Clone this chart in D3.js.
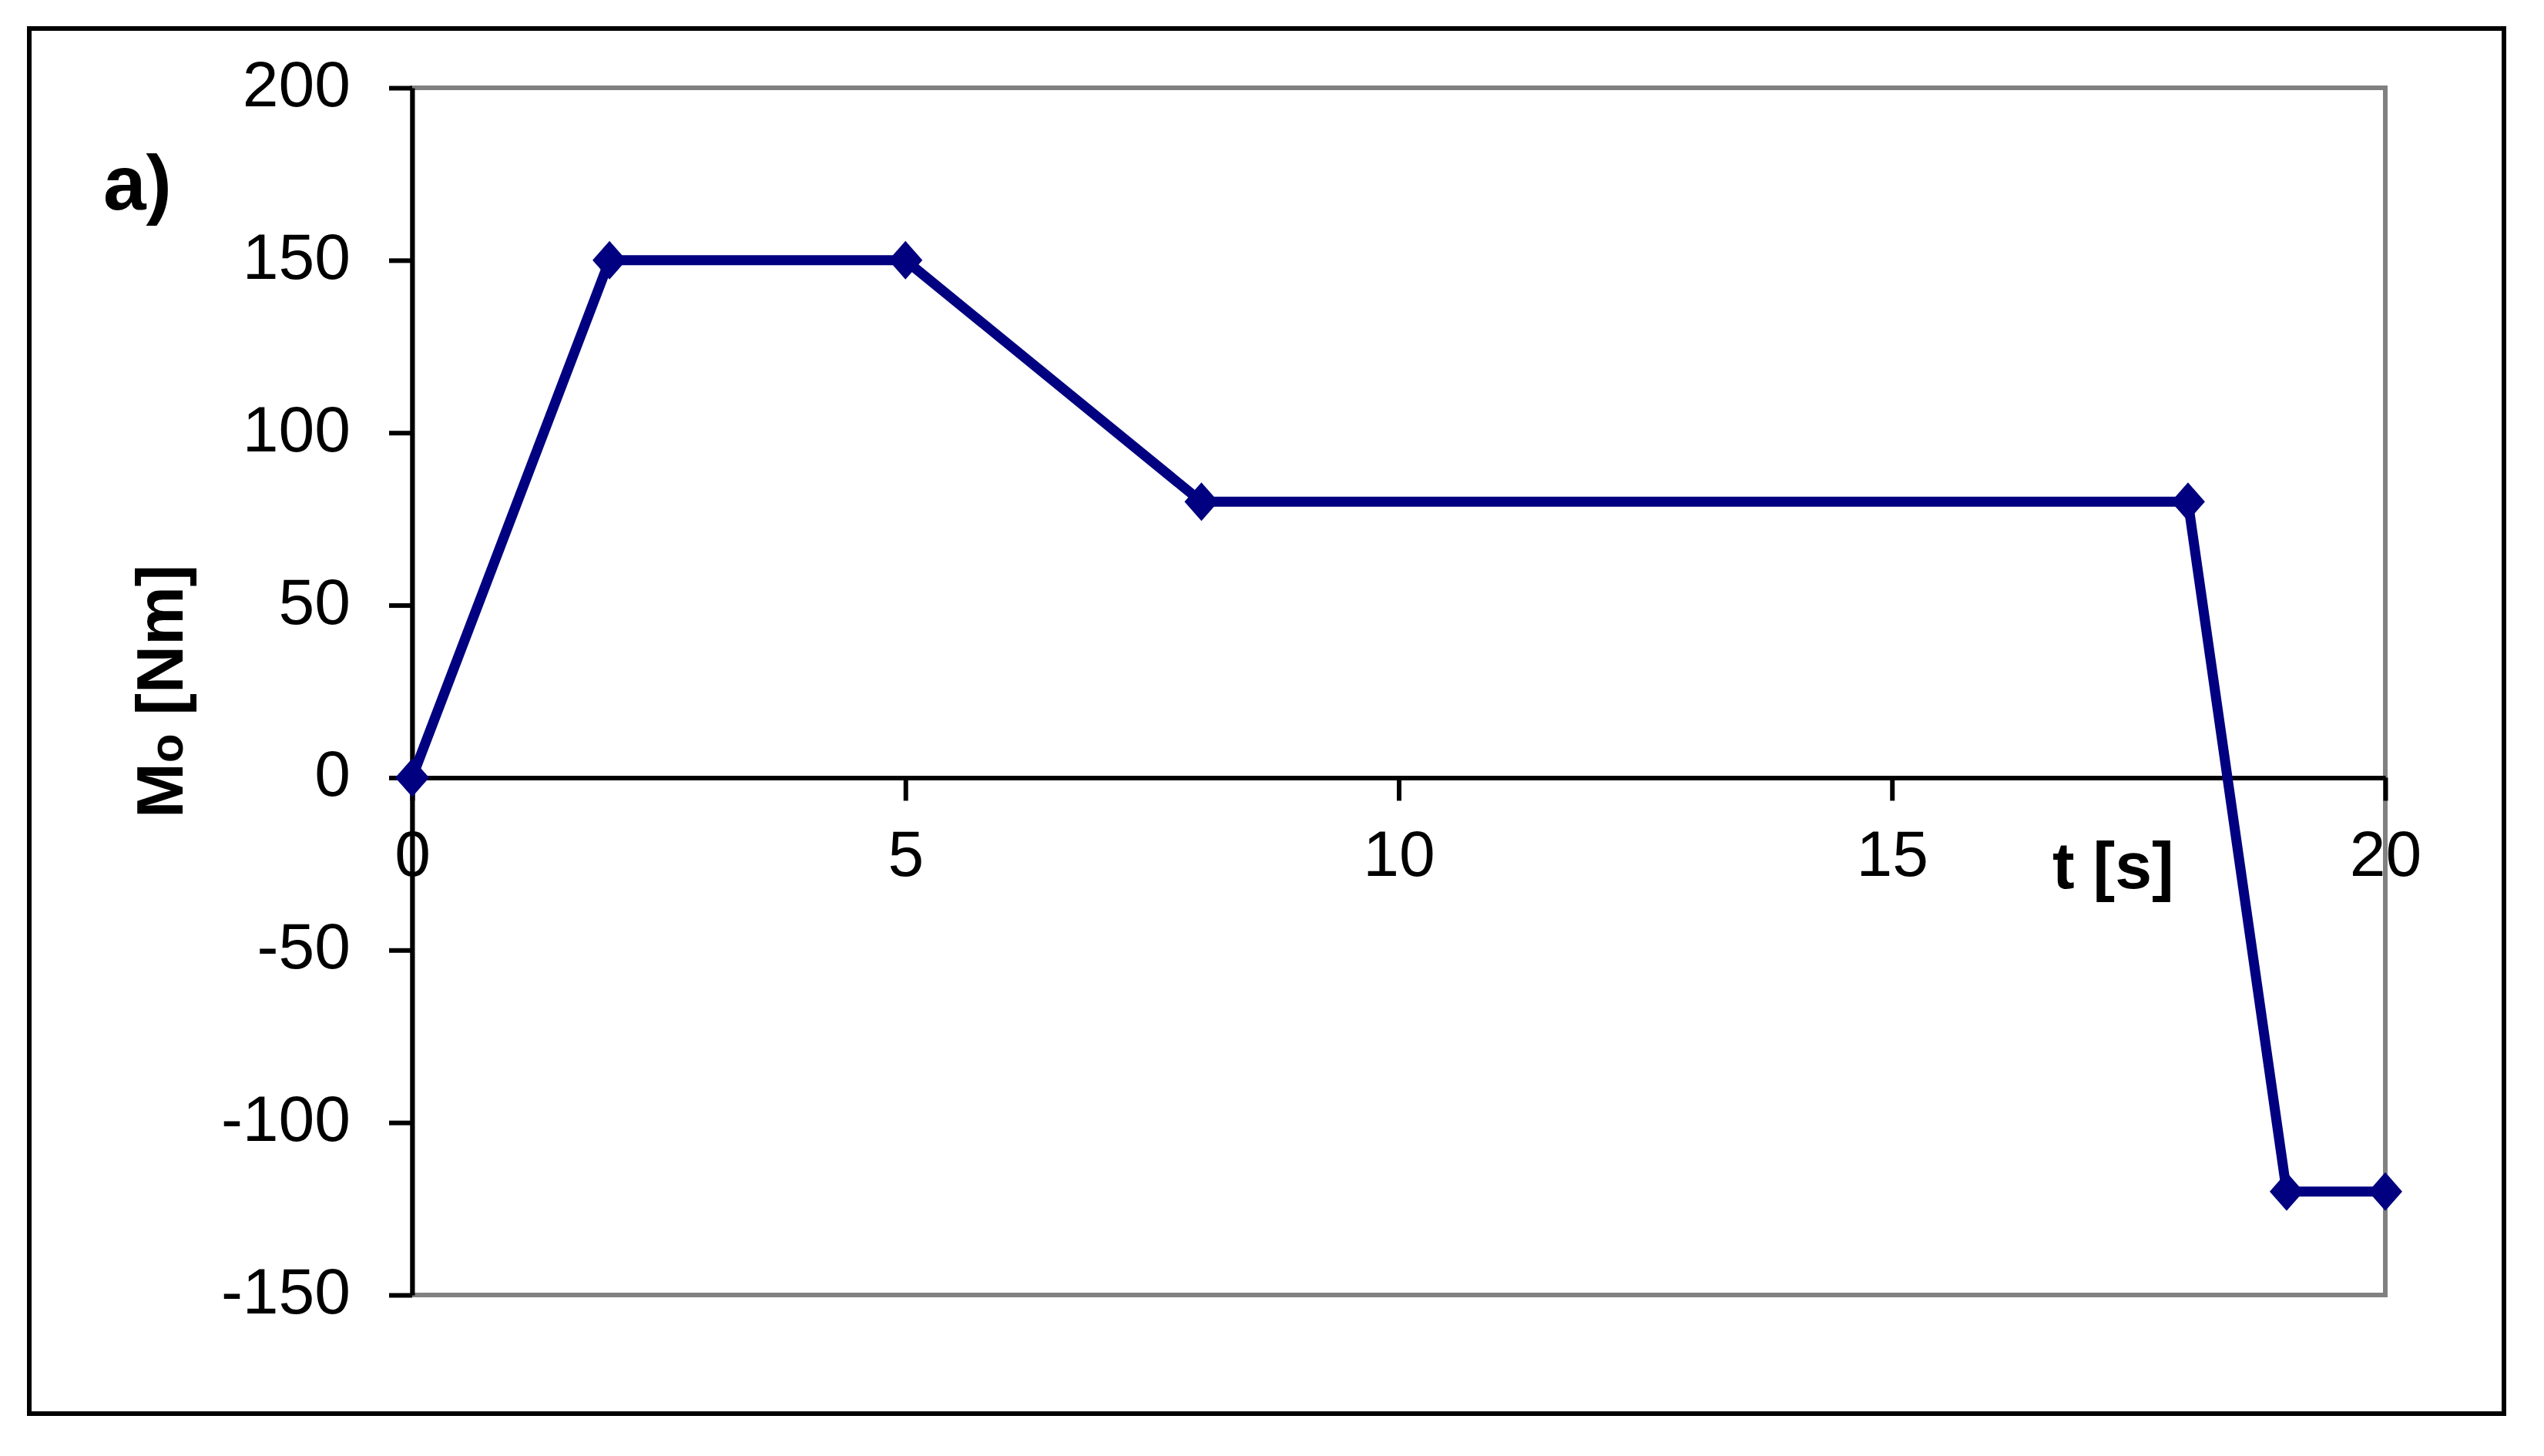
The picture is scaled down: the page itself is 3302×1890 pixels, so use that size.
<!DOCTYPE html>
<html>
<head>
<meta charset="utf-8">
<script src="https://cdn.jsdelivr.net/npm/d3@7"></script>
<style>
  html, body { margin: 0; padding: 0; background: #fff; }
  svg { display: block; }
</style>
</head>
<body>
<svg id="chart" width="3302" height="1890"></svg>
<script>
// ---- data ----
const timeValues = [0, 2, 5, 8, 18, 19, 20];
const torqueValues = [0, 150, 150, 80, 80, -120, -120];
const xTickValues = [0, 5, 10, 15, 20];
const yTickValues = [-150, -100, -50, 0, 50, 100, 150, 200];
const panelLabel = "a)";
const xTitle = "t [s]";
const yTitleMain = "M";
const yTitleSub = "o";
const yTitleUnit = " [Nm]";

// ---- layout ----
const W = 3302, H = 1890;
const plot = { left: 535, right: 3096, top: 114, bottom: 1681 };
const font = "'Liberation Sans', Arial, Helvetica, sans-serif";
const navy = "#000080";

const svg = d3.select("#chart");
svg.append("rect").attr("width", W).attr("height", H).attr("fill", "#fff");

// outer border
svg.append("rect")
  .attr("x", 38).attr("y", 37).attr("width", 3250 - 38).attr("height", 1835 - 37)
  .attr("fill", "none").attr("stroke", "#000").attr("stroke-width", 6);

const x = d3.scaleLinear().domain([0, 20]).range([plot.left, plot.right]);
const y = d3.scaleLinear().domain([-150, 200]).range([plot.bottom, plot.top]);
const fmt = d => String(d);

// grey plot frame
svg.append("rect")
  .attr("x", plot.left).attr("y", plot.top)
  .attr("width", plot.right - plot.left).attr("height", plot.bottom - plot.top)
  .attr("fill", "none").attr("stroke", "#808080").attr("stroke-width", 6);

// y axis
const yAxis = svg.append("g")
  .attr("transform", `translate(${plot.left},0)`)
  .call(d3.axisLeft(y).tickValues(yTickValues).tickFormat(fmt).tickSize(30).tickSizeOuter(0).tickPadding(50));
yAxis.select(".domain").attr("stroke", "#000").attr("stroke-width", 6);
yAxis.selectAll(".tick line").attr("stroke", "#000").attr("stroke-width", 6);
yAxis.selectAll(".tick text")
  .attr("font-family", font).attr("font-size", 84).attr("fill", "#000").attr("dy", "0.28em");

// x axis at zero
const xAxis = svg.append("g")
  .attr("transform", `translate(0,${y(0)})`)
  .call(d3.axisBottom(x).tickValues(xTickValues).tickFormat(fmt).tickSize(30).tickSizeOuter(0).tickPadding(38));
xAxis.select(".domain").attr("stroke", "#000").attr("stroke-width", 6);
xAxis.selectAll(".tick line").attr("stroke", "#000").attr("stroke-width", 6);
xAxis.selectAll(".tick text")
  .attr("font-family", font).attr("font-size", 84).attr("fill", "#000");

// data line
const pts = timeValues.map((t, i) => [t, torqueValues[i]]);
const line = d3.line().x(d => x(d[0])).y(d => y(d[1]));
svg.append("path")
  .datum(pts)
  .attr("d", line)
  .attr("fill", "none").attr("stroke", navy).attr("stroke-width", 13)
  .attr("stroke-linejoin", "miter");

// diamond markers
svg.append("g").selectAll("path")
  .data(pts)
  .join("path")
  .attr("transform", d => `translate(${x(d[0])},${y(d[1])})`)
  .attr("d", "M0,-25L22,0L0,25L-22,0Z")
  .attr("fill", navy);

// titles
svg.append("text")
  .attr("x", 2664).attr("y", 1153)
  .attr("font-family", font).attr("font-size", 86).attr("font-weight", "bold")
  .attr("fill", "#000")
  .text(xTitle);

const yt = svg.append("text")
  .attr("transform", "translate(237,1062) rotate(-90)")
  .attr("font-family", font).attr("font-weight", "bold").attr("fill", "#000")
  .attr("font-size", 86);
yt.append("tspan").text(yTitleMain);
yt.append("tspan").attr("font-size", 62).text(yTitleSub);
yt.append("tspan").text(yTitleUnit);

svg.append("text")
  .attr("x", 134).attr("y", 272)
  .attr("font-family", font).attr("font-size", 100).attr("font-weight", "bold")
  .attr("fill", "#000")
  .text(panelLabel);
</script>
</body>
</html>
